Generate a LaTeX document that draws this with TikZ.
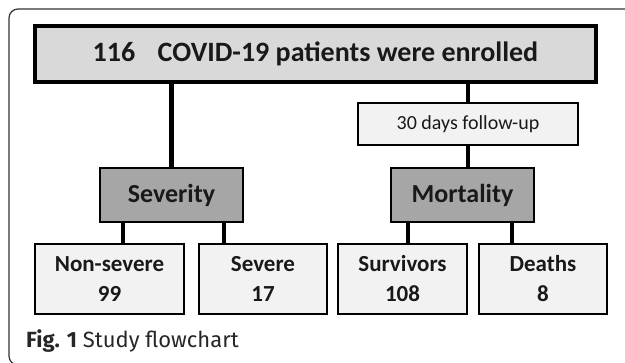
\documentclass[tikz,border=0pt]{standalone}
\usepackage{fontspec}
\setmainfont{Carlito}
\newfontfamily\capfont{Fira Sans}
\usepackage{xcolor}
\usepackage{tikz}
\usetikzlibrary{positioning}
\definecolor{headgray}{HTML}{D9D9D9}
\definecolor{palegray}{HTML}{F2F2F2}
\definecolor{midgray}{HTML}{A6A6A6}
\definecolor{framegray}{HTML}{333333}
\tikzset{
	flowbox/.style={draw=black, line width=2.8pt, inner sep=0pt, outer sep=0pt, align=center, text=black!90}
}
\tikzset{
	headbox/.style={flowbox, line width=3.3pt, fill=headgray, font=\bfseries\fontsize{28}{32}\selectfont}
}
\tikzset{
	notebox/.style={flowbox, fill=palegray, font=\fontsize{20}{23}\selectfont}
}
\tikzset{
	groupbox/.style={flowbox, fill=midgray, minimum width=143pt, minimum height=54pt, font=\bfseries\fontsize{26}{29}\selectfont}
}
\tikzset{
	leafbox/.style={flowbox, fill=palegray, minimum height=70pt, font=\bfseries\fontsize{23}{30}\selectfont}
}
\tikzset{
	link/.style={line width=4.5pt, draw=black}
}

\begin{document}
\begin{tikzpicture}[x=1pt, y=-1pt]

		\useasboundingbox (0,0) rectangle (625,363);
		\clip (0,0) rectangle (625,363);

		% outer figure frame
		\draw[framegray, line width=1.2pt, rounded corners=9pt] (625,9) -- (9,9) -- (9,365) -- (40,365);

		% top of the chart
		\node[headbox, minimum width=561pt, minimum height=56pt] (enrolled) at (315.5,54) {116\hspace{0.8em}COVID-19 patients were enrolled};
		\node[notebox, minimum width=220pt, minimum height=42pt] (followup) at (468,124) {30 days follow-up};

		% the two groupings
		\node[groupbox] (severity) at (171.5,195) {Severity};
		\node[groupbox] (mortality) at (462.5,195) {Mortality};

		% outcome boxes
		\node[leafbox, minimum width=149pt] (nonsevere) at (109.5,279) {Non-severe\\99};
		\node[leafbox, minimum width=128pt] (severe) at (263,279) {Severe\\17};
		\node[leafbox, minimum width=129pt] (survivors) at (402.5,279) {Survivors\\108};
		\node[leafbox, minimum width=128pt] (deaths) at (543,279) {Deaths\\8};

		% connectors
		\draw[link] (severity.north |- enrolled.south) -- (severity.north);
		\draw[link] (followup.north |- enrolled.south) -- (followup.north);
		\draw[link] (followup.south) -- (followup.south |- mortality.north);

		\draw[link] ([xshift=23]severity.south west) -- ([xshift=23]severity.south west |- nonsevere.north);
		\draw[link] ([xshift=-19]severity.south east) -- ([xshift=-19]severity.south east |- severe.north);
		\draw[link] ([xshift=17]mortality.south west) -- ([xshift=17]mortality.south west |- survivors.north);
		\draw[link] ([xshift=-22]mortality.south east) -- ([xshift=-22]mortality.south east |- deaths.north);

		% caption
		\node[anchor=base west, inner sep=0pt, font=\capfont\fontsize{22}{26}\selectfont, text=black!85] (caption) at (26,348) {\textbf{Fig. 1} Study flowchart};

	\end{tikzpicture}
\end{document}
